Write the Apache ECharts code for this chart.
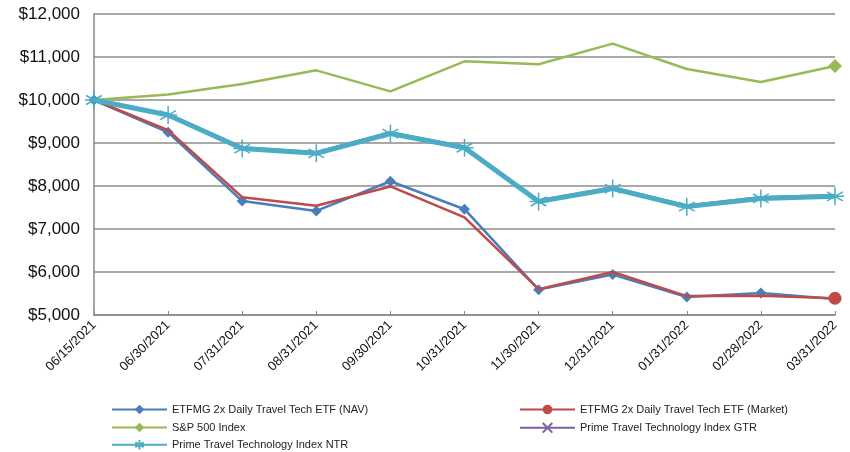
<!DOCTYPE html>
<html style="height: 100%">
<head>
    <meta charset="utf-8">
    <script src="https://cdn.jsdelivr.net/npm/echarts@6/dist/echarts.min.js"></script>
</head>
<body style="height: 100%; margin: 0; background: #fff">
    <div id="main" style="width:850px;height:452px;"></div>
    <script type="text/javascript">
    var dates = ['06/15/2021', '06/30/2021', '07/31/2021', '08/31/2021', '09/30/2021', '10/31/2021',
        '11/30/2021', '12/31/2021', '01/31/2022', '02/28/2022', '03/31/2022'];
    var navVals = [10000, 9250, 7650, 7420, 8110, 7460, 5590, 5940, 5420, 5510, 5370];
    var marketVals = [10000, 9300, 7740, 7540, 7990, 7270, 5600, 6000, 5440, 5450, 5390];
    var spVals = [10000, 10130, 10370, 10690, 10200, 10900, 10830, 11310, 10720, 10420, 10790];
    var gtrVals = [10000, 9660, 8890, 8780, 9240, 8910, 7660, 7960, 7540, 7730, 7780];
    var ntrVals = [10000, 9650, 8870, 8760, 9220, 8890, 7640, 7940, 7520, 7710, 7760];

    var font = '"Liberation Sans", sans-serif';
    var starPath = 'path://M0,-10L0,10M-8.7,-5L8.7,5M-8.7,5L8.7,-5M-10,0L10,0';
    var crossPath = 'path://M-7,-7L7,7M-7,7L7,-7';

    // only the last point carries a marker
    function lastOnly(vals, size) {
        return vals.map(function (v, i) {
            if (i === vals.length - 1) return { value: v, symbolSize: size };
            return { value: v, symbol: 'none' };
        });
    }

    function legendAt(left, top, name) {
        return {
            left: left, top: top, itemWidth: 55, itemHeight: 12, itemGap: 0,
            textStyle: { fontSize: 11, color: '#222', fontFamily: font },
            data: [name]
        };
    }

    var myChart = echarts.init(document.getElementById('main'));
    var option = {
        animation: false,
        textStyle: { fontFamily: font },
        grid: { left: 94, right: 15, top: 14, bottom: 137 },
        legend: [
            legendAt(106, 399, 'ETFMG 2x Daily Travel Tech ETF (NAV)'),
            legendAt(514, 399, 'ETFMG 2x Daily Travel Tech ETF (Market)'),
            legendAt(106, 417, 'S&P 500 Index'),
            legendAt(514, 417, 'Prime Travel Technology Index GTR'),
            legendAt(106, 434, 'Prime Travel Technology Index NTR')
        ],
        xAxis: {
            type: 'category',
            data: dates,
            boundaryGap: false,
            axisLine: { lineStyle: { color: '#888', width: 1.5 } },
            axisTick: { inside: true, length: 4, lineStyle: { color: '#888' } },
            axisLabel: { rotate: 45, fontSize: 13, color: '#111', margin: 8, fontFamily: font }
        },
        yAxis: {
            type: 'value',
            min: 5000, max: 12000, interval: 1000,
            axisLine: { show: true, lineStyle: { color: '#888', width: 1.5 } },
            axisTick: { show: false },
            splitLine: { lineStyle: { color: '#8c8c8c', width: 1.5 } },
            axisLabel: {
                fontSize: 17, color: '#111', margin: 14, fontFamily: font,
                formatter: function (v) { return '$' + v.toLocaleString('en-US'); }
            }
        },
        series: [{
            name: 'ETFMG 2x Daily Travel Tech ETF (NAV)',
            type: 'line', data: navVals,
            symbol: 'diamond', symbolSize: 11,
            itemStyle: { color: '#4a7ebb' },
            lineStyle: { width: 2.5, color: '#4a7ebb' },
            z: 3
        }, {
            name: 'ETFMG 2x Daily Travel Tech ETF (Market)',
            type: 'line', data: lastOnly(marketVals, 13),
            symbol: 'circle', symbolSize: 13,
            itemStyle: { color: '#be4b48' },
            lineStyle: { width: 2.5, color: '#be4b48' },
            z: 4
        }, {
            name: 'S&P 500 Index',
            type: 'line', data: lastOnly(spVals, 14),
            symbol: 'diamond', symbolSize: 14,
            itemStyle: { color: '#98b954' },
            lineStyle: { width: 2.5, color: '#98b954' },
            z: 2
        }, {
            name: 'Prime Travel Technology Index GTR',
            type: 'line', data: gtrVals,
            symbol: crossPath, symbolSize: 9, showSymbol: false,
            itemStyle: { color: '#7d60a0', borderColor: '#7d60a0', borderWidth: 1.5 },
            lineStyle: { width: 3, color: '#7d60a0' },
            z: 1
        }, {
            name: 'Prime Travel Technology Index NTR',
            type: 'line', data: ntrVals,
            symbol: starPath, symbolSize: 18,
            itemStyle: { color: '#4bacc6', borderColor: '#4bacc6', borderWidth: 1.5 },
            lineStyle: { width: 5, color: '#4bacc6' },
            z: 5
        }]
    };
    myChart.setOption(option, true);
    </script>
</body>
</html>
